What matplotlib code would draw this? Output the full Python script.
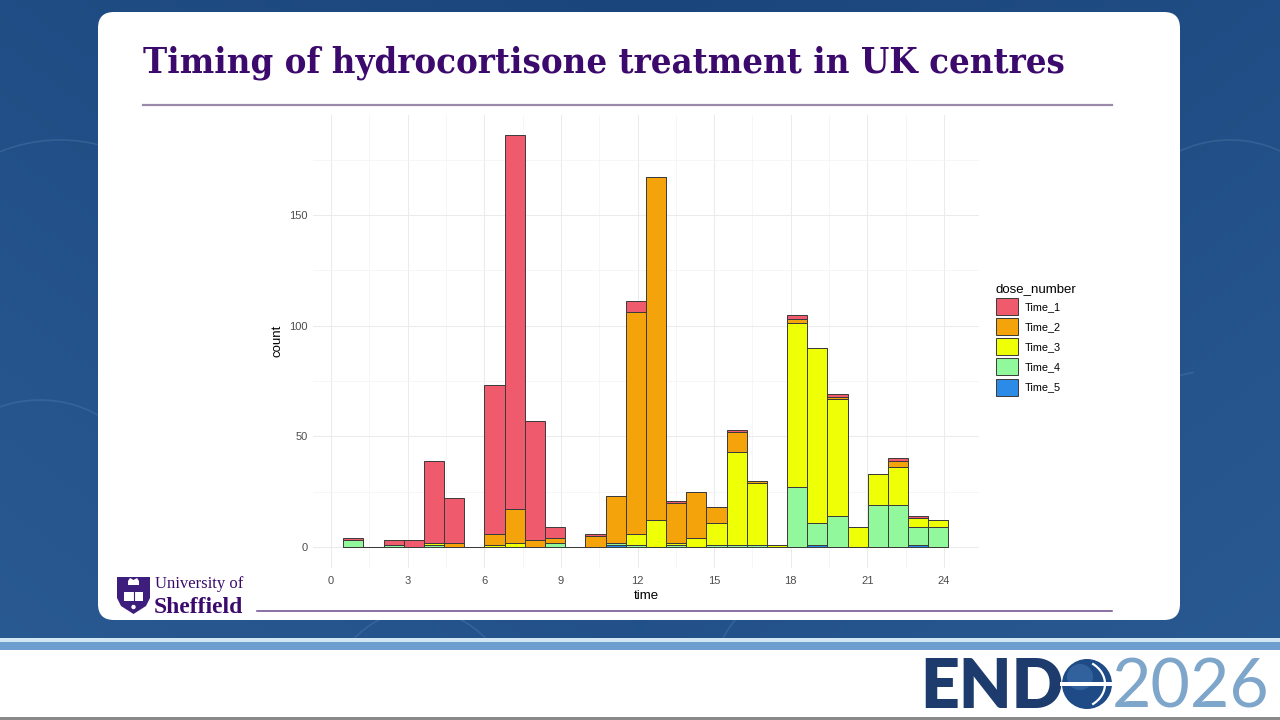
import numpy as np
import matplotlib
matplotlib.use("Agg")
import matplotlib.pyplot as plt
from matplotlib.patches import Patch, FancyBboxPatch, Rectangle, Polygon, Circle, Arc
from matplotlib.ticker import MultipleLocator, FixedLocator

# ---------------- data ----------------
bin_centers = [0.87, 1.66, 2.45, 3.24, 4.03, 4.82, 5.61, 6.40, 7.19, 7.98,
               8.77, 9.56, 10.35, 11.14, 11.93, 12.72, 13.51, 14.30, 15.09, 15.88,
               16.67, 17.46, 18.25, 19.04, 19.83, 20.62, 21.41, 22.20, 22.99, 23.78]
bin_width = 0.79
series_names = ["Time_1", "Time_2", "Time_3", "Time_4", "Time_5"]
time_1 = [1, 0, 2, 3, 37, 20, 0, 67, 169, 54, 5, 0, 1, 0, 5, 0, 1, 0, 0, 1, 0, 0, 2, 0, 1, 0, 0, 1, 1, 0]
time_2 = [0, 0, 0, 0, 0, 2, 0, 5, 15, 3, 2, 0, 5, 21, 100, 155, 18, 21, 7, 9, 1, 0, 2, 0, 1, 0, 0, 3, 0, 0]
time_3 = [0, 0, 0, 0, 1, 0, 0, 1, 2, 0, 0, 0, 0, 0, 5, 12, 1, 4, 10, 42, 28, 1, 74, 79, 53, 9, 14, 17, 4, 3]
time_4 = [3, 0, 1, 0, 1, 0, 0, 0, 0, 0, 2, 0, 0, 1, 1, 0, 1, 0, 1, 1, 1, 0, 27, 10, 14, 0, 19, 19, 8, 9]
time_5 = [0, 0, 0, 0, 0, 0, 0, 0, 0, 0, 0, 0, 0, 1, 0, 0, 0, 0, 0, 0, 0, 0, 0, 1, 0, 0, 0, 0, 1, 0]
series_values = [time_1, time_2, time_3, time_4, time_5]
series_colors = ["#EF5A6C", "#F5A30A", "#EEFF06", "#92F89C", "#2B8BE6"]
x_ticks = [0, 3, 6, 9, 12, 15, 18, 21, 24]
y_ticks = [0, 50, 100, 150]

title_text = "Timing of hydrocortisone treatment in UK centres"

# ---------------- figure ----------------
W, H = 1280, 720
fig = plt.figure(figsize=(12.8, 7.2), dpi=100)

bg = fig.add_axes([0, 0, 1, 1], zorder=-5)
bg.set_xlim(0, W)
bg.set_ylim(H, 0)
bg.axis("off")

# slide background gradient
yy, xx = np.mgrid[0:1:90j, 0:1:160j]
c_top = np.array([0x1A, 0x44, 0x7C]) / 255
c_bot = np.array([0x2B, 0x5B, 0x93]) / 255
t = (0.6 * yy + 0.4 * np.abs(xx - 0.5) * 2)[..., None]
grad = c_top * (1 - t) + c_bot * t
bg.imshow(grad, extent=[0, W, H, 0], aspect="auto", zorder=0)

# faint decorative curves
for (cx, cy, r, a1, a2) in [(60, 300, 160, 200, 340), (1230, 260, 120, 120, 300),
                            (40, 520, 120, 250, 400), (1220, 520, 150, 150, 260),
                            (420, 700, 90, 180, 330), (820, 690, 110, 190, 320)]:
    bg.add_patch(Arc((cx, cy), 2 * r, 2 * r, theta1=a1, theta2=a2,
                     color="#5D88B8", lw=1.2, alpha=0.3, zorder=1))

# white card
card = FancyBboxPatch((98, 12), 1082, 608, boxstyle="round,pad=0,rounding_size=16",
                      facecolor="white", edgecolor="none", zorder=2)
bg.add_patch(card)

# title and rules
title = bg.text(143, 72, title_text, fontsize=29, fontweight="bold",
                family=["DejaVu Serif"], fontstretch="condensed", color="#3B0A6C",
                ha="left", va="baseline", zorder=3)
bg.plot([143, 1112], [105, 105], color="#9A89A9", lw=1.6, zorder=3)
bg.plot([257, 1112], [611, 611], color="#6B4A8C", lw=1.1, zorder=3)

# fit title width to reference
fig.canvas.draw()
ext = title.get_window_extent(fig.canvas.get_renderer())
title.set_fontsize(29 * 920 / ext.width)

# University of Sheffield logo
shield = Polygon([[117, 577], [150, 577], [150, 598], [146, 606], [133.5, 614],
                  [121, 606], [117, 598]], closed=True, facecolor="#3E1E7C",
                  edgecolor="none", zorder=3)
bg.add_patch(shield)
bg.add_patch(Rectangle((124, 592), 19, 9, facecolor="white", edgecolor="none", zorder=4))
bg.plot([133.5, 133.5], [592, 601], color="#3E1E7C", lw=0.8, zorder=5)
bg.add_patch(Polygon([[128, 581], [130, 578], [133.5, 580], [137, 578], [139, 581], [139, 585], [128, 585]],
                     closed=True, facecolor="white", edgecolor="none", zorder=4))
bg.add_patch(Circle((133.5, 607), 2.2, facecolor="white", edgecolor="none", zorder=4))
bg.text(155, 587.5, "University of", fontsize=12, family=["Liberation Serif", "DejaVu Serif"],
        color="#3B0A6C", ha="left", va="baseline", zorder=3)
bg.text(154, 613, "Sheffield", fontsize=17, fontweight="bold",
        family=["Liberation Serif", "DejaVu Serif"],
        color="#3B0A6C", ha="left", va="baseline", zorder=3)

# bottom band
bg.add_patch(Rectangle((0, 638), W, 4, facecolor="#D3E6F4", edgecolor="none", zorder=2))
bg.add_patch(Rectangle((0, 642), W, 8, facecolor="#6E9ED0", edgecolor="none", zorder=2))
bg.add_patch(Rectangle((0, 650), W, 70, facecolor="white", edgecolor="none", zorder=2))
bg.add_patch(Rectangle((0, 717), W, 3, facecolor="#8A8A8A", edgecolor="none", zorder=3))

# ENDO2026 logo
bg.text(920, 708, "END", fontsize=49, fontweight="heavy", family=["Lato", "DejaVu Sans"],
        color="#1D3B6D", ha="left", va="baseline", zorder=3)
bg.add_patch(Circle((1087, 684), 25, facecolor="#1E4A85", edgecolor="none", zorder=3))
bg.add_patch(Circle((1080, 677), 13, facecolor="#3F73B0", edgecolor="none", alpha=0.6, zorder=3))
bg.add_patch(Rectangle((1060, 682), 54, 3.5, facecolor="white", edgecolor="none", zorder=4))
bg.add_patch(Arc((1075, 684), 60, 50, theta1=-50, theta2=50, color="white", lw=1.6, zorder=4))
bg.text(1112, 708, "2026", fontsize=49, fontweight="normal", family=["Lato", "DejaVu Sans"],
        color="#7EA6CB", ha="left", va="baseline", zorder=3)

# ---------------- chart ----------------
ax = fig.add_axes([313 / W, 1 - 567.6 / H, (979 - 313) / W, (567.6 - 114.8) / H], zorder=2)
ax.patch.set_alpha(0)

bottom = np.zeros(len(bin_centers))
stack_order = list(range(len(series_names)))[::-1]  # Time_5 at bottom, Time_1 on top
for i in stack_order:
    vals = np.array(series_values[i], dtype=float)
    ax.bar(bin_centers, vals, width=bin_width, bottom=bottom, color=series_colors[i],
           edgecolor="#3A3A3A", linewidth=0.7, zorder=3)
    bottom += vals

ax.set_xlim(-0.71, 25.37)
ax.set_ylim(-9.3, 195.3)
ax.xaxis.set_major_locator(FixedLocator(x_ticks))
ax.yaxis.set_major_locator(FixedLocator(y_ticks))
ax.xaxis.set_minor_locator(MultipleLocator(1.5))
ax.yaxis.set_minor_locator(MultipleLocator(25))
ax.grid(which="major", color="#EBEBEB", linewidth=0.75, zorder=0)
ax.grid(which="minor", color="#F3F3F3", linewidth=0.5, zorder=0)
ax.set_axisbelow(True)
for s in ax.spines.values():
    s.set_visible(False)
ax.tick_params(which="both", length=0)
ax.tick_params(axis="x", pad=6, labelsize=8, labelcolor="#4D4D4D")
ax.tick_params(axis="y", pad=4, labelsize=8, labelcolor="#4D4D4D")
for lab in ax.get_xticklabels() + ax.get_yticklabels():
    lab.set_family(["Liberation Sans", "DejaVu Sans"])
ax.set_xlabel("time", fontsize=9.5, family=["Liberation Sans", "DejaVu Sans"], labelpad=3)
ax.set_ylabel("count", fontsize=9.5, family=["Liberation Sans", "DejaVu Sans"], labelpad=4)

handles = [Patch(facecolor=c, edgecolor="#3A3A3A", linewidth=0.7) for c in series_colors]
leg = ax.legend(handles, series_names, title="dose_number", loc="upper left",
                bbox_to_anchor=(996 / W, 1 - 283 / H), bbox_transform=fig.transFigure,
                frameon=False, title_fontsize=9.5,
                handlelength=2.05, handleheight=2.05, labelspacing=0.28,
                handletextpad=0.6, borderpad=0, borderaxespad=0,
                prop={"family": ["Liberation Sans", "DejaVu Sans"], "size": 7.8},
                alignment="left")
leg.get_title().set_family(["Liberation Sans", "DejaVu Sans"])

fig.savefig("out.png", dpi=100)
